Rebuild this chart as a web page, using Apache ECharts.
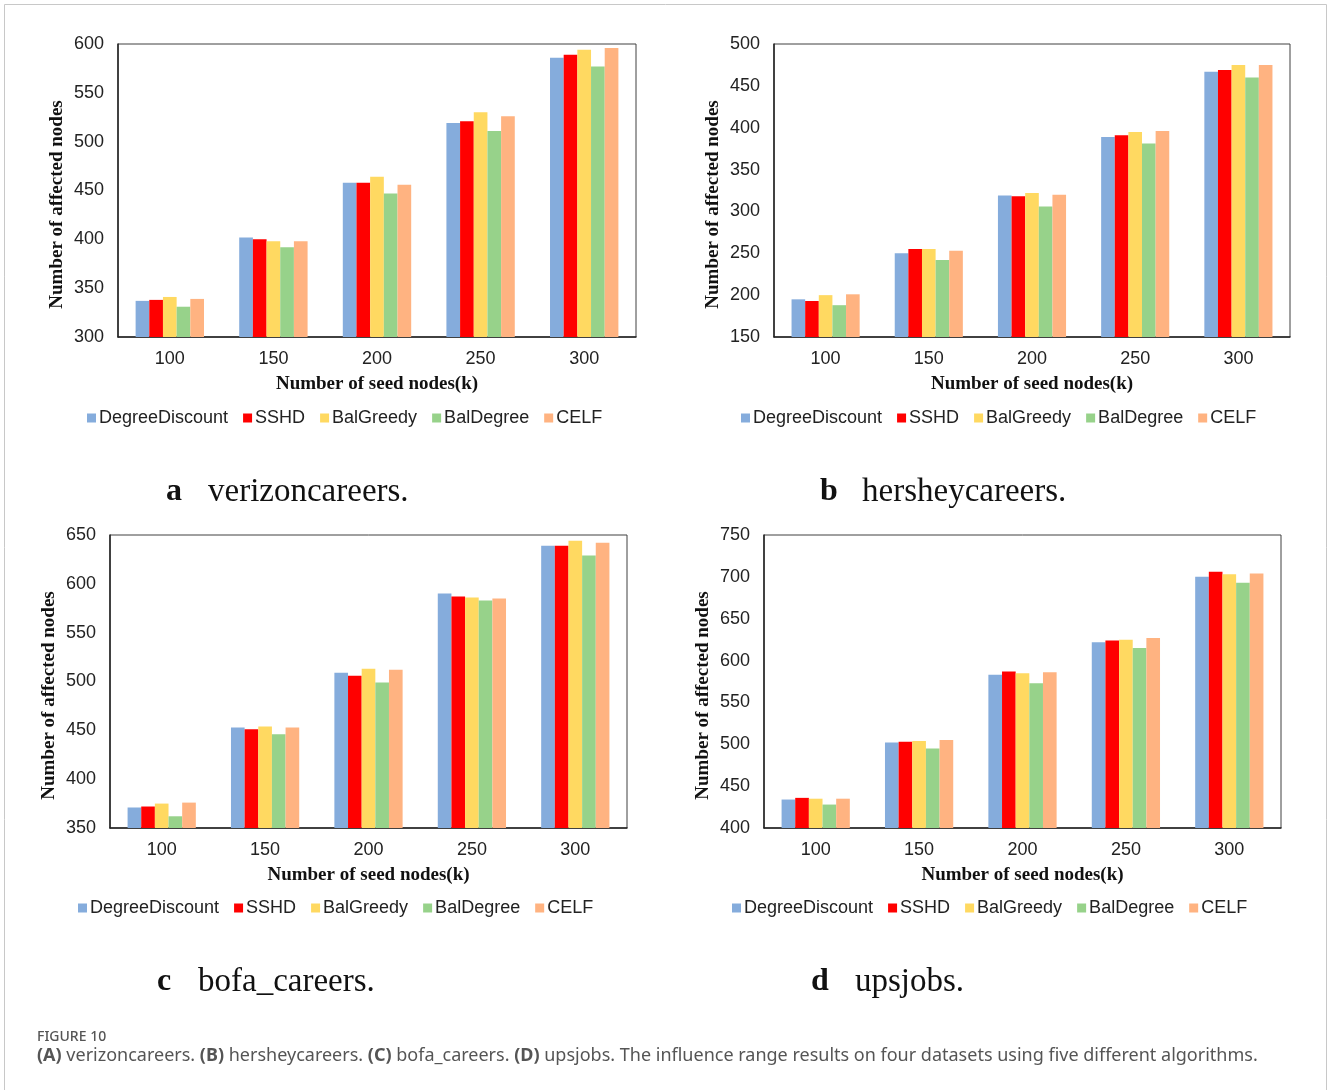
<!DOCTYPE html>
<html>
<head>
<meta charset="utf-8">
<script src="https://cdn.jsdelivr.net/npm/echarts@6/dist/echarts.min.js"></script>
<style>
html,body{margin:0;padding:0;background:#fff;}
#main{width:1328px;height:1090px;}
</style>
</head>
<body>
<div id="main"></div>
<script>
// ---------- data ----------
const categories = ['100', '150', '200', '250', '300'];
const seriesNames = ['DegreeDiscount', 'SSHD', 'BalGreedy', 'BalDegree', 'CELF'];

// (a) verizoncareers
const verizonDegreeDiscount = [337, 402, 458, 519, 586];
const verizonSSHD           = [338, 400, 458, 521, 589];
const verizonBalGreedy      = [341, 398, 464, 530, 594];
const verizonBalDegree      = [331, 392, 447, 511, 577];
const verizonCELF           = [339, 398, 456, 526, 596];

// (b) hersheycareers
const hersheyDegreeDiscount = [195, 250, 319, 389, 467];
const hersheySSHD           = [193, 255, 318, 391, 469];
const hersheyBalGreedy      = [200, 255, 322, 395, 475];
const hersheyBalDegree      = [188, 242, 306, 381, 460];
const hersheyCELF           = [201, 253, 320, 396, 475];

// (c) bofa_careers
const bofaDegreeDiscount = [371, 453, 509, 590, 639];
const bofaSSHD           = [372, 451, 506, 587, 639];
const bofaBalGreedy      = [375, 454, 513, 586, 644];
const bofaBalDegree      = [362, 446, 499, 583, 629];
const bofaCELF           = [376, 453, 512, 585, 642];

// (d) upsjobs
const upsDegreeDiscount = [434, 502, 583, 622, 700];
const upsSSHD           = [436, 503, 587, 624, 706];
const upsBalGreedy      = [435, 504, 585, 625, 703];
const upsBalDegree      = [428, 495, 573, 615, 693];
const upsCELF           = [435, 505, 586, 627, 704];

// y axis ranges (min, max, interval)
const yRangeA = [300, 600, 50];
const yRangeB = [150, 500, 50];
const yRangeC = [350, 650, 50];
const yRangeD = [400, 750, 50];

const panelTitles = ['verizoncareers.', 'hersheycareers.', 'bofa_careers.', 'upsjobs.'];
const panelLetters = ['a', 'b', 'c', 'd'];
const xAxisTitle = 'Number of seed nodes(k)';
const yAxisTitle = 'Number of affected nodes';
const captionHead = 'FIGURE 10';

// ---------- styling ----------
const colors = ['#85ACDC', '#FF0000', '#FFD961', '#97D28A', '#FFB381'];
const panelData = [
  [verizonDegreeDiscount, verizonSSHD, verizonBalGreedy, verizonBalDegree, verizonCELF],
  [hersheyDegreeDiscount, hersheySSHD, hersheyBalGreedy, hersheyBalDegree, hersheyCELF],
  [bofaDegreeDiscount, bofaSSHD, bofaBalGreedy, bofaBalDegree, bofaCELF],
  [upsDegreeDiscount, upsSSHD, upsBalGreedy, upsBalDegree, upsCELF]
];
const yRanges = [yRangeA, yRangeB, yRangeC, yRangeD];
const grids = [
  {left: 118, top: 44, width: 518, height: 293},
  {left: 774, top: 44, width: 516, height: 293},
  {left: 110, top: 535, width: 517, height: 293},
  {left: 764, top: 535, width: 517, height: 293}
];
const legendPos = [
  {left: 82, top: 403},
  {left: 736, top: 403},
  {left: 73, top: 893},
  {left: 727, top: 893}
];
const titlePos = [
  {letterX: 166, nameX: 208, y: 492},
  {letterX: 820, nameX: 862, y: 492},
  {letterX: 157, nameX: 198, y: 982},
  {letterX: 811, nameX: 855, y: 982}
];

const sansFont = '"Liberation Sans", Arial, sans-serif';
const serifFont = '"Liberation Serif", "Times New Roman", serif';

const option = {
  backgroundColor: '#fff',
  animation: false,
  grid: grids.map(g => Object.assign({show: true, borderColor: '#404040', borderWidth: 1, backgroundColor: 'transparent'}, g)),
  xAxis: grids.map((g, i) => ({
    type: 'category', gridIndex: i, data: categories,
    axisLine: {show: true, lineStyle: {color: '#222', width: 1.5}},
    axisTick: {show: false},
    axisLabel: {fontFamily: sansFont, fontSize: 18, color: '#222', margin: 13},
    name: xAxisTitle, nameLocation: 'middle', nameGap: 38,
    nameTextStyle: {fontFamily: serifFont, fontWeight: 'bold', fontSize: 19, color: '#111'}
  })),
  yAxis: grids.map((g, i) => ({
    type: 'value', gridIndex: i, min: yRanges[i][0], max: yRanges[i][1], interval: yRanges[i][2],
    axisLine: {show: true, lineStyle: {color: '#222', width: 1.5}},
    axisTick: {show: false},
    splitLine: {show: false},
    axisLabel: {fontFamily: sansFont, fontSize: 18, color: '#222', margin: 14},
    name: yAxisTitle, nameLocation: 'middle', nameGap: 51,
    nameTextStyle: {fontFamily: serifFont, fontWeight: 'bold', fontSize: 19, color: '#111', padding: [0, 28, 0, 0]}
  })),
  legend: legendPos.map(p => ({
    data: seriesNames, left: p.left, top: p.top, orient: 'horizontal',
    icon: 'rect', itemWidth: 9, itemHeight: 9, itemGap: 15,
    textStyle: {fontFamily: sansFont, fontSize: 18, color: '#222', padding: [0, 0, 0, -2], lineHeight: 20},
    selectedMode: false
  })),
  series: [],
  graphic: []
};

panelData.forEach((arrs, p) => {
  arrs.forEach((vals, s) => {
    option.series.push({
      type: 'bar', name: seriesNames[s], xAxisIndex: p, yAxisIndex: p,
      data: vals, barGap: '0%', barCategoryGap: '34%',
      itemStyle: {color: colors[s]}
    });
  });
});

titlePos.forEach((t, i) => {
  option.graphic.push({
    type: 'text', left: t.letterX, top: t.y - 16,
    style: {text: panelLetters[i], font: 'bold 32px ' + serifFont, fill: '#111'}
  });
  option.graphic.push({
    type: 'text', left: t.nameX, top: t.y - 16,
    style: {text: panelTitles[i], font: '33px ' + serifFont, fill: '#111'}
  });
});

// outer frame
option.graphic.push({
  type: 'polyline', silent: true,
  shape: {points: [[4.5, 1100], [4.5, 4.5], [1326.5, 4.5], [1326.5, 1100]]},
  style: {stroke: '#c8c8c8', lineWidth: 1, fill: null}
});
// caption
option.graphic.push({
  type: 'text', left: 37, top: 1030,
  style: {text: captionHead, font: '500 14px "Noto Sans", sans-serif', fill: '#555'}
});
option.graphic.push({
  type: 'text', left: 37, top: 1047,
  style: {
    text: '{b|(A)} verizoncareers. {b|(B)} hersheycareers. {b|(C)} bofa_careers. {b|(D)} upsjobs. The influence range results on four datasets using five different algorithms.',
    font: '18px "Noto Sans", sans-serif', fill: '#555',
    rich: {b: {font: 'bold 18px "Noto Sans", sans-serif', fill: '#555'}}
  }
});

const chart = echarts.init(document.getElementById('main'), null, {renderer: 'canvas'});
chart.setOption(option);
</script>
</body>
</html>
